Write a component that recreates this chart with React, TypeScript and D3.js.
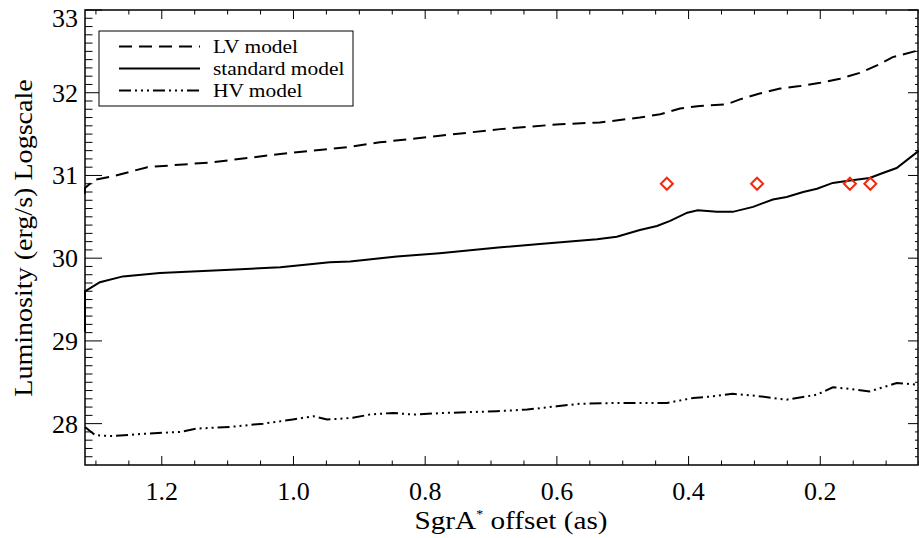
import React, { useEffect, useRef } from 'react';
import * as d3 from 'd3';

// curves: offset (arcsec) vs log luminosity
const lvX = [1.3166, 1.3166, 1.301, 1.274, 1.222, 1.122, 1.02, 0.919, 0.869, 0.778, 0.686, 0.595, 0.535, 0.474, 0.443, 0.413, 0.383, 0.342, 0.322, 0.292, 0.261, 0.231, 0.2, 0.17, 0.14, 0.114, 0.09, 0.052];
const lvY = [30.78, 30.85, 30.95, 30.99, 31.1, 31.16, 31.26, 31.34, 31.4, 31.48, 31.56, 31.62, 31.64, 31.7, 31.74, 31.81, 31.84, 31.86, 31.92, 31.99, 32.05, 32.08, 32.12, 32.17, 32.24, 32.33, 32.43, 32.51];

const stdX = [1.3166, 1.3166, 1.294, 1.259, 1.203, 1.096, 1.02, 0.945, 0.914, 0.843, 0.778, 0.689, 0.626, 0.539, 0.509, 0.474, 0.448, 0.428, 0.402, 0.386, 0.357, 0.333, 0.302, 0.272, 0.251, 0.226, 0.205, 0.181, 0.155, 0.125, 0.105, 0.084, 0.05];
const stdY = [29.11, 29.6, 29.71, 29.78, 29.82, 29.86, 29.89, 29.95, 29.96, 30.02, 30.06, 30.13, 30.17, 30.23, 30.26, 30.34, 30.39, 30.45, 30.55, 30.58, 30.56, 30.56, 30.62, 30.71, 30.74, 30.8, 30.84, 30.91, 30.94, 30.97, 31.03, 31.09, 31.3];

const hvX = [1.3166, 1.301, 1.274, 1.222, 1.172, 1.147, 1.096, 1.046, 1.001, 0.97, 0.949, 0.91, 0.884, 0.849, 0.819, 0.767, 0.691, 0.645, 0.6, 0.565, 0.509, 0.454, 0.433, 0.393, 0.363, 0.333, 0.302, 0.251, 0.205, 0.181, 0.155, 0.125, 0.084, 0.05];
const hvY = [27.96, 27.86, 27.85, 27.88, 27.9, 27.94, 27.96, 28.0, 28.05, 28.09, 28.05, 28.07, 28.11, 28.13, 28.11, 28.13, 28.15, 28.17, 28.21, 28.24, 28.25, 28.25, 28.25, 28.31, 28.33, 28.36, 28.34, 28.29, 28.35, 28.44, 28.42, 28.39, 28.49, 28.47];

// observed points (red diamonds)
const obsX = [0.433, 0.296, 0.155, 0.124];
const obsY = [30.9, 30.9, 30.9, 30.9];

const xTicks = [1.2, 1.0, 0.8, 0.6, 0.4, 0.2];
const yTicks = [28, 29, 30, 31, 32, 33];

const models = [
  { label: 'LV model', xs: lvX, ys: lvY, dash: '13,7' },
  { label: 'standard model', xs: stdX, ys: stdY, dash: null },
  { label: 'HV model', xs: hvX, ys: hvY, dash: '12,4,2,4,2,4,2,4' }
];

const FONT = '"Liberation Serif", "Times New Roman", serif';

function App() {
  const svgRef = useRef<SVGSVGElement>(null);

  useEffect(() => {
    const width = 919;
    const height = 538;
    const left = 85, right = 918, top = 10, bottom = 465;

    const svg = d3.select(svgRef.current).attr('width', width).attr('height', height);
    svg.selectAll('*').remove();

    const x = d3.scaleLinear().domain([1.3166, 0.0516]).range([left, right]);
    const y = d3.scaleLinear().domain([27.5, 33]).range([bottom, top]);

    const g = svg.append('g');

    // minor + major ticks, all four sides
    const xMinor = d3.range(0.05, 1.31, 0.05);
    xMinor.forEach(v => {
      const major = xTicks.some(t => Math.abs(t - v) < 1e-6);
      const len = major ? 9 : 4.5;
      g.append('line').attr('x1', x(v)).attr('x2', x(v)).attr('y1', bottom).attr('y2', bottom - len)
        .attr('stroke', '#000').attr('stroke-width', 1);
      g.append('line').attr('x1', x(v)).attr('x2', x(v)).attr('y1', top).attr('y2', top + len)
        .attr('stroke', '#000').attr('stroke-width', 1);
    });
    const yMinor = d3.range(27.6, 33.01, 0.1);
    yMinor.forEach(v => {
      const major = yTicks.some(t => Math.abs(t - v) < 1e-6);
      g.append('line').attr('x1', left).attr('x2', left + (major ? 17 : 7.5)).attr('y1', y(v)).attr('y2', y(v))
        .attr('stroke', '#000').attr('stroke-width', 1);
      g.append('line').attr('x1', right).attr('x2', right - (major ? 10 : 3)).attr('y1', y(v)).attr('y2', y(v))
        .attr('stroke', '#000').attr('stroke-width', 1);
    });

    // frame
    g.append('rect').attr('x', left).attr('y', top).attr('width', right - left).attr('height', bottom - top)
      .attr('fill', 'none').attr('stroke', '#000').attr('stroke-width', 1.5);

    // tick labels
    xTicks.forEach(t => {
      g.append('text').attr('x', x(t)).attr('y', 500).attr('text-anchor', 'middle')
        .attr('font-family', FONT).attr('font-size', 26).text(t.toFixed(1));
    });
    yTicks.forEach(t => {
      // top label sits just below the frame edge, as in the original
      const base = Math.max(y(t) + 9, 27);
      g.append('text').attr('x', 78).attr('y', base).attr('text-anchor', 'end')
        .attr('font-family', FONT).attr('font-size', 26).text(String(t));
    });

    // model curves
    const line = d3.line<number[]>()
      .x(d => d[0])
      .y(d => d[1]);
    models.forEach(m => {
      const pts = m.xs.map((v, i) => [x(v), y(m.ys[i])]);
      g.append('path').attr('d', line(pts))
        .attr('fill', 'none').attr('stroke', '#000').attr('stroke-width', 2)
        .attr('stroke-dasharray', m.dash);
    });

    // observed diamonds
    obsX.forEach((v, i) => {
      const cx = x(v), cy = y(obsY[i]), r = 6;
      g.append('path')
        .attr('d', `M${cx},${cy - r}L${cx + r},${cy}L${cx},${cy + r}L${cx - r},${cy}Z`)
        .attr('fill', 'none').attr('stroke', '#f02a10').attr('stroke-width', 2);
    });

    // legend
    const lg = g.append('g');
    lg.append('rect').attr('x', 99).attr('y', 31).attr('width', 254).attr('height', 75)
      .attr('fill', '#fff').attr('stroke', '#000').attr('stroke-width', 1);
    models.forEach((m, i) => {
      const ly = 46.5 + i * 22;
      lg.append('line').attr('x1', 119).attr('x2', 200).attr('y1', ly).attr('y2', ly)
        .attr('stroke', '#000').attr('stroke-width', 2).attr('stroke-dasharray', m.dash);
      lg.append('text').attr('transform', `translate(213,${ly + 6.5}) scale(1.19,1)`)
        .attr('font-family', FONT).attr('font-size', 18).text(m.label);
    });

    // axis titles
    const xt = g.append('text').attr('transform', 'translate(511,529) scale(1.17,1)')
      .attr('text-anchor', 'middle').attr('font-family', FONT).attr('font-size', 25);
    xt.append('tspan').text('SgrA');
    xt.append('tspan').attr('font-size', 12).attr('dy', -11).text('*');
    xt.append('tspan').attr('dy', 11).text(' offset (as)');

    g.append('text').attr('transform', 'translate(32,238) rotate(-90) scale(1.08,1)')
      .attr('text-anchor', 'middle').attr('font-family', FONT).attr('font-size', 26)
      .text('Luminosity (erg/s) Logscale');
  }, []);

  return (
    <div>
      <style>{'body{margin:0}'}</style>
      <svg ref={svgRef} style={{ display: 'block' }}></svg>
    </div>
  );
}

export default App;
